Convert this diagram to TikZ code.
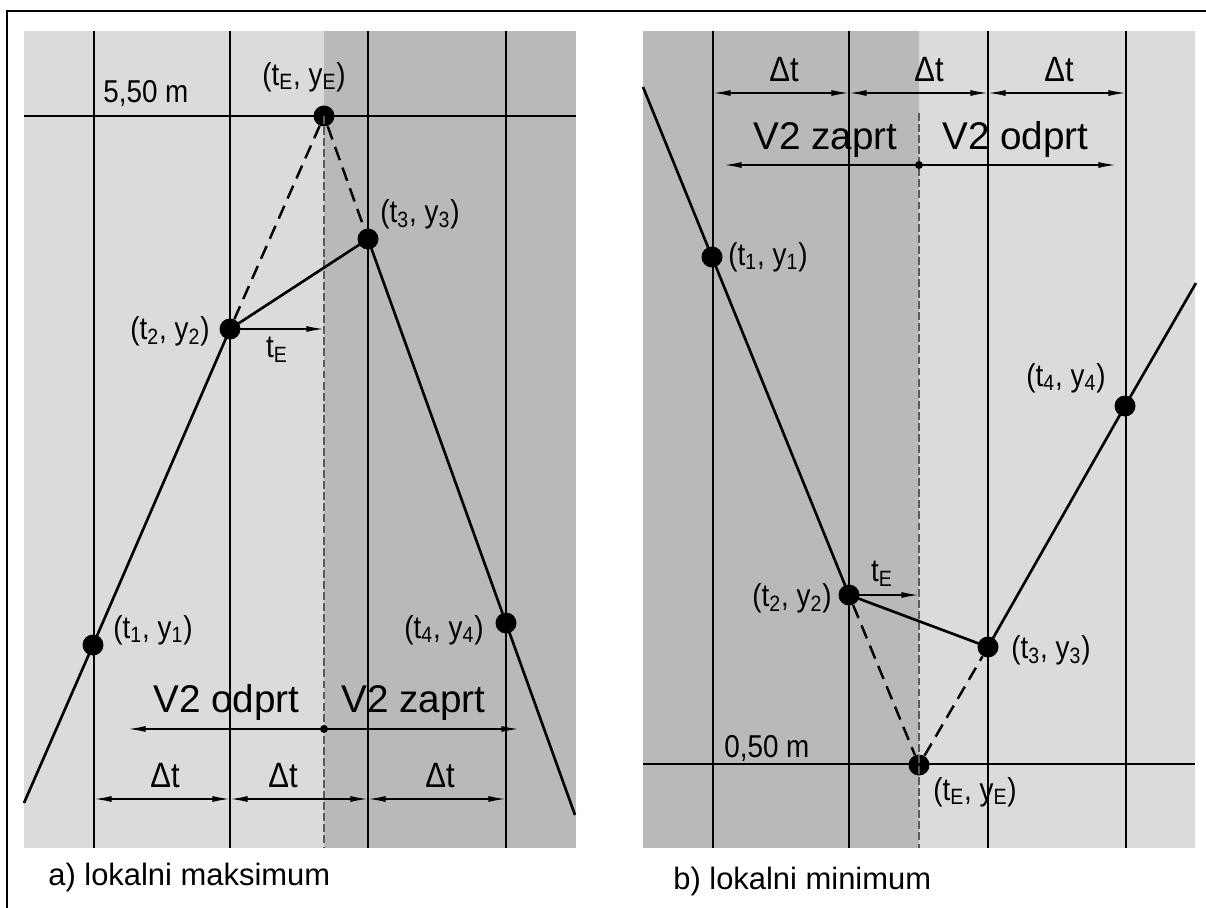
\documentclass[tikz,border=0pt]{standalone}
\usepackage{fontspec}
\setmainfont{Liberation Sans}
\newfontfamily\narrowfont[FakeStretch=0.88]{Liberation Sans}
\usetikzlibrary{arrows.meta}

\definecolor{paneLight}{HTML}{DBDBDB}
\definecolor{paneDark}{HTML}{B9B9B9}
\definecolor{helpGray}{HTML}{5A5A5A}

\tikzset{
  gridline/.style={line width=1pt, black},
  curve/.style={line width=1.5pt, black, line join=round},
  helper/.style={line width=1.4pt, black, dash pattern=on 8pt off 4.5pt},
  markline/.style={line width=0.8pt, helpGray, dash pattern=on 4.5pt off 1.8pt},
  dimline/.style={line width=0.9pt, black, <->},
  bigdot/.style={circle, fill=black, inner sep=0pt, minimum size=0.42cm},
  smalldot/.style={circle, fill=black, inner sep=0pt, minimum size=0.16cm},
  lbl/.style={font=\narrowfont\fontsize{18}{20}\selectfont, inner sep=0pt},
  dtlbl/.style={font=\narrowfont\fontsize{20}{22}\selectfont, inner sep=0pt, anchor=base},
  v2lbl/.style={font=\fontsize{22}{24}\selectfont, inner sep=0pt, anchor=base west},
  caplbl/.style={font=\fontsize{17.6}{20}\selectfont, inner sep=0pt, anchor=base west}
}

\begin{document}
\begin{tikzpicture}[x=0.02cm, y=-0.02cm, >={Latex[length=10pt,width=3.4pt]}]
    \useasboundingbox (0,0) rectangle (1206,908);

    % 1. Okvir
    \draw[line width=1.2pt] (1206,11) -- (7,11) -- (7,908);

    % 2. Levo: ozadje in mreza
    \fill[paneLight] (24,31) rectangle (324,848);
    \fill[paneDark] (324,31) rectangle (576,848);
    \foreach \x in {94,230,368,506}
        \draw[gridline] (\x,31) -- (\x,848);
    \draw[gridline] (24,116) -- (576,116);
    \node[lbl, anchor=base west] (amax) at (103,103) {5,50 m};

    % 3. Levo: tocke
    \node[bigdot] (a1) at (93,645) {};
    \node[bigdot] (a2) at (230,329) {};
    \node[bigdot] (a3) at (368,239) {};
    \node[bigdot] (a4) at (506,623) {};
    \node[bigdot] (aE) at (324,116) {};
    \coordinate (aS) at (24,803);
    \coordinate (aT) at (575,815);
    \coordinate (aB) at (324,848);
    \draw[markline] (aE.center) -- (aB);

    % 4. Levo: krivulja
    \draw[curve] (aS) -- (a1.center) -- (a2.center) -- (a3.center) -- (a4.center) -- (aT);
    \draw[helper] (a2) -- (aE) -- (a3);
    \coordinate (atE) at (324,329);
    \draw[line width=0.9pt, ->] (a2.center) -- (atE);
    \node[lbl] (atElbl) at (277,350) {t\textsubscript{E}};

    % 5. Levo: oznake tock
    \node[lbl] (a1lbl) at (153,630) {(t\textsubscript{1}, y\textsubscript{1})};
    \node[lbl] (a2lbl) at (170,331) {(t\textsubscript{2}, y\textsubscript{2})};
    \node[lbl] (a3lbl) at (420,214) {(t\textsubscript{3}, y\textsubscript{3})};
    \node[lbl] (a4lbl) at (444,630) {(t\textsubscript{4}, y\textsubscript{4})};
    \node[lbl] (aElbl) at (304,77) {(t\textsubscript{E}, y\textsubscript{E})};

    % 6. Levo: V2 in casovni koraki
    \node[v2lbl] (aodp) at (153,712) {V2 odprt};
    \node[v2lbl] (azap) at (341,712) {V2 zaprt};
    \node[smalldot] (amid) at (324,729) {};
    \coordinate (aL) at (128,729);
    \coordinate (aR) at (519,729);
    \draw[line width=0.9pt, <->] (aL) -- (aR);
    \foreach \a/\b in {94/230,230/368,368/506}
        \draw[dimline] (\a,799) -- (\b,799);
    \node[dtlbl] (adt1) at (165,787) {Δt};
    \node[dtlbl] (adt2) at (283,787) {Δt};
    \node[dtlbl] (adt3) at (440,787) {Δt};
    \node[caplbl] (acap) at (48,885) {a) lokalni maksimum};

    % 7. Desno: ozadje in mreza
    \fill[paneDark] (643,31) rectangle (919,848);
    \fill[paneLight] (919,31) rectangle (1195,848);
    \foreach \x in {713,849,988,1126}
        \draw[gridline] (\x,31) -- (\x,848);
    \draw[gridline] (643,764) -- (1195,764);
    \node[lbl, anchor=base west] (bmin) at (724,757) {0,50 m};

    % 8. Desno: tocke
    \node[bigdot] (b1) at (712,257) {};
    \node[bigdot] (b2) at (849,595) {};
    \node[bigdot] (b3) at (988,647) {};
    \node[bigdot] (b4) at (1125,406) {};
    \node[bigdot] (bE) at (919,765) {};
    \coordinate (bS) at (643,87);
    \coordinate (bT) at (1196,283);
    \coordinate (bA) at (919,113);
    \coordinate (bB) at (919,848);
    \draw[markline] (bA) -- (bB);

    % 9. Desno: krivulja
    \draw[curve] (bS) -- (b1.center) -- (b2.center) -- (b3.center) -- (b4.center) -- (bT);
    \draw[helper] (b2) -- (bE) -- (b3);
    \coordinate (btE) at (919,595);
    \draw[line width=0.9pt, ->] (b2.center) -- (btE);
    \node[lbl] (btElbl) at (882,574) {t\textsubscript{E}};

    % 10. Desno: oznake tock
    \node[lbl] (b1lbl) at (768,257) {(t\textsubscript{1}, y\textsubscript{1})};
    \node[lbl] (b2lbl) at (792,598) {(t\textsubscript{2}, y\textsubscript{2})};
    \node[lbl] (b3lbl) at (1051,650) {(t\textsubscript{3}, y\textsubscript{3})};
    \node[lbl] (b4lbl) at (1066,378) {(t\textsubscript{4}, y\textsubscript{4})};
    \node[lbl] (bElbl) at (975,792) {(t\textsubscript{E}, y\textsubscript{E})};

    % 11. Desno: V2 in casovni koraki
    \node[v2lbl] (bzap) at (753,150) {V2 zaprt};
    \node[v2lbl] (bodp) at (942,150) {V2 odprt};
    \node[smalldot] (bmid) at (919,165) {};
    \coordinate (bL) at (724,165);
    \coordinate (bR) at (1116,165);
    \draw[line width=0.9pt, <->] (bL) -- (bR);
    \foreach \a/\b in {713/849,849/988,988/1126}
        \draw[dimline] (\a,93) -- (\b,93);
    \node[dtlbl] (bdt1) at (784,82) {Δt};
    \node[dtlbl] (bdt2) at (929,82) {Δt};
    \node[dtlbl] (bdt3) at (1059,82) {Δt};
    \node[caplbl] (bcap) at (673,889) {b) lokalni minimum};
\end{tikzpicture}
\end{document}
